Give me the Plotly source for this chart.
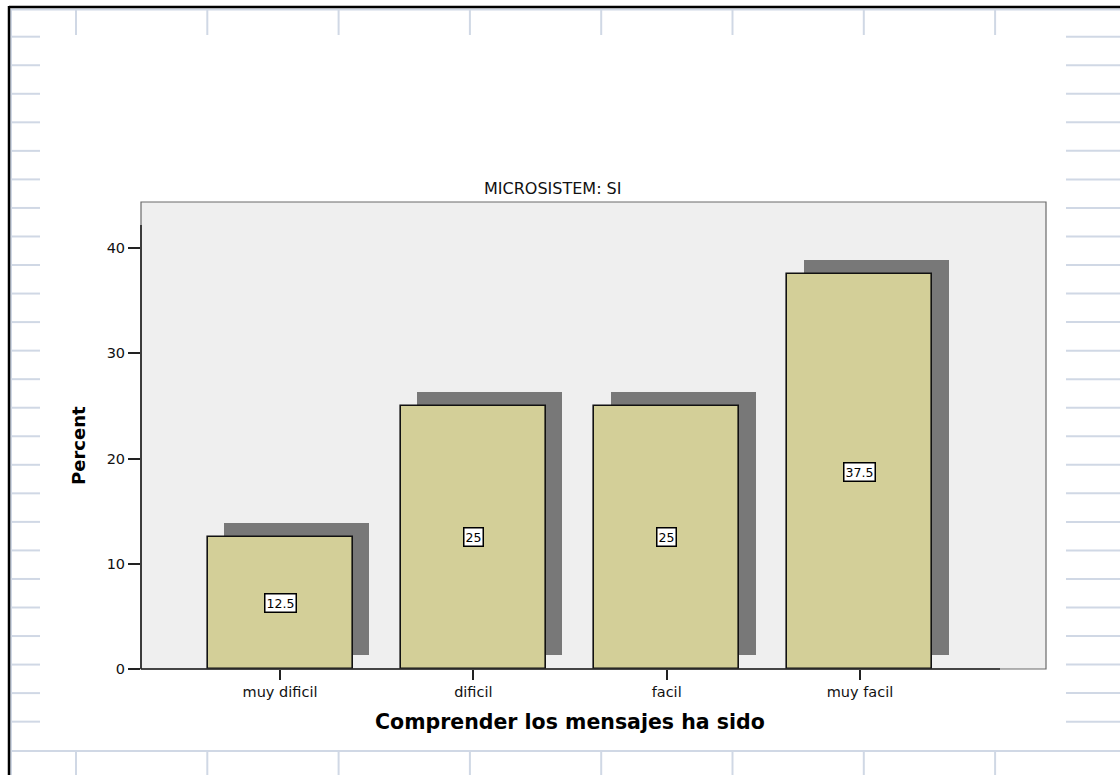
import plotly.graph_objects as go

categories = ["muy dificil", "dificil", "facil", "muy facil"]
percent = [12.5, 25, 25, 37.5]
y_ticks = [0, 10, 20, 30, 40]
chart_title = "MICROSISTEM: SI"
x_title = "Comprender los mensajes ha sido"
y_title = "Percent"

W, H = 1120, 775
L, R, T, B = 141, 1046, 202, 669  # plot area in pixels


def px(x):
    return (x - L) / (R - L)


def py(y):
    return (B - y) / (B - T)


def fmt(v):
    return ("%g" % v)


xpos = list(range(len(categories)))
shadow_dx = 0.086
shadow_base = 1.35
bar_w = 0.75

fig = go.Figure()
fig.add_trace(go.Bar(
    x=[i + shadow_dx for i in xpos], y=percent, base=[shadow_base] * len(percent),
    width=bar_w, marker=dict(color="#787878", line=dict(width=0)),
    hoverinfo="skip", showlegend=False,
))
fig.add_trace(go.Bar(
    x=xpos, y=percent, width=bar_w,
    marker=dict(color="#d3cf98", line=dict(color="#111111", width=1.6)),
    showlegend=False,
))

annotations = []
for i, v in zip(xpos, percent):
    annotations.append(dict(
        x=i, y=v / 2, xref="x", yref="y", text=fmt(v), showarrow=False,
        font=dict(family="DejaVu Sans", size=12.5, color="#000000"),
        bgcolor="#ffffff", bordercolor="#000000", borderwidth=1.5, borderpad=1,
    ))

annotations.append(dict(
    x=px(552.5), y=py(188), xref="paper", yref="paper", text=chart_title, showarrow=False,
    font=dict(family="DejaVu Sans", size=16, color="#111111"),
    xanchor="center", yanchor="middle",
))
annotations.append(dict(
    x=px(569.5), y=py(722), xref="paper", yref="paper", text="<b>" + x_title + "</b>",
    showarrow=False, font=dict(family="DejaVu Sans", size=20.5, color="#000000"),
    xanchor="center", yanchor="middle",
))
annotations.append(dict(
    x=px(78), y=py(446), xref="paper", yref="paper", text="<b>" + y_title + "</b>",
    showarrow=False, textangle=-90, font=dict(family="DejaVu Sans", size=18, color="#000000"),
    xanchor="center", yanchor="middle",
))

shapes = []
grid_col = "#d0d8e5"


def line(x0, y0, x1, y1, color, width):
    shapes.append(dict(type="line", xref="paper", yref="paper",
                       x0=px(x0), y0=py(y0), x1=px(x1), y1=py(y1),
                       line=dict(color=color, width=width), layer="below"))


# spreadsheet grid decoration
line(11, 9.5, 1120, 9.5, grid_col, 2)
line(11, 751, 1120, 751, grid_col, 2)
line(11, 9, 11, 775, grid_col, 2)
for k in range(8):
    gx = 76 + k * 131.3
    line(gx, 9, gx, 35, grid_col, 2)
    line(gx, 751, gx, 775, grid_col, 2)
for k in range(25):
    gy = 36.7 + k * 28.54
    line(11, gy, 40, gy, grid_col, 2)
    line(1066, gy, 1120, gy, grid_col, 2)
# black frame
line(9, 7, 1120, 7, "#000000", 2.5)
line(9, 6, 9, 775, "#000000", 2.5)

# plot frame and axis lines
shapes.append(dict(type="rect", xref="paper", yref="paper", x0=0, y0=0, x1=1, y1=1,
                   line=dict(color="#6a6a6a", width=1.2), layer="above"))
shapes.append(dict(type="line", xref="paper", yref="paper", x0=0, y0=0, x1=px(1000), y1=0,
                   line=dict(color="#222222", width=1.6), layer="above"))
shapes.append(dict(type="line", xref="paper", yref="paper", x0=0, y0=0, x1=0, y1=py(225),
                   line=dict(color="#222222", width=1.6), layer="above"))

fig.update_layout(
    width=W, height=H,
    margin=dict(l=L, r=W - R, t=T, b=H - B, pad=0),
    paper_bgcolor="#ffffff", plot_bgcolor="#efefef",
    barmode="overlay", bargap=0,
    annotations=annotations, shapes=shapes,
    font=dict(family="DejaVu Sans", color="#111111"),
    xaxis=dict(
        range=[(L - 280) / 193.33, (R - 280) / 193.33],
        tickmode="array", tickvals=xpos, ticktext=categories,
        ticks="outside", ticklen=10, tickwidth=1.5, tickcolor="#222222",
        showgrid=False, zeroline=False, showline=False,
        tickfont=dict(family="DejaVu Sans", size=14.5, color="#111111"),
        fixedrange=True,
    ),
    yaxis=dict(
        range=[0, (B - T) / 10.525],
        tickmode="array", tickvals=y_ticks, ticktext=[str(t) for t in y_ticks],
        ticks="outside", ticklen=12, tickwidth=1.5, tickcolor="#222222",
        showgrid=False, zeroline=False, showline=False,
        tickfont=dict(family="DejaVu Sans", size=14.5, color="#111111"),
        fixedrange=True,
    ),
)

fig.write_html("out.html", config={"displayModeBar": False})
